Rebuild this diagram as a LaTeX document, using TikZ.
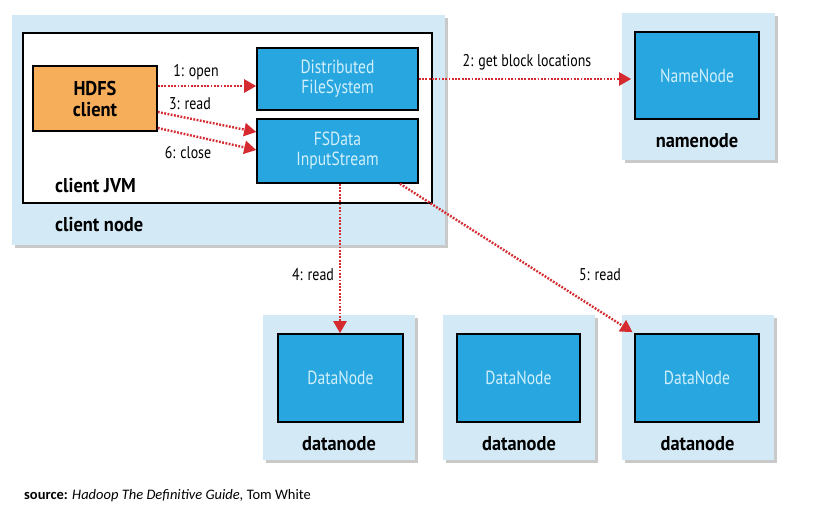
\documentclass[tikz,border=0pt]{standalone}
\usepackage{fontspec}
\setmainfont[FakeStretch=0.82]{PT Sans}
\newfontfamily\boldlab[FakeStretch=0.92]{PT Sans}
\newfontfamily\srcfont{Carlito}
\usetikzlibrary{arrows.meta,shadows}
\definecolor{lightbg}{HTML}{D3EAF6}
\definecolor{boxblue}{HTML}{27A6DF}
\definecolor{boxtext}{HTML}{D2F0FC}
\definecolor{hdfsorange}{HTML}{F6AE5A}
\definecolor{arrred}{HTML}{D42A30}
\tikzset{
  x=1pt, y=-1pt,
  hostbox/.style={draw=none, fill=lightbg, minimum width=#1, inner sep=0pt,
    drop shadow={shadow xshift=3pt, shadow yshift=-3pt, opacity=0.35, fill=black!60}},
  bluebox/.style={draw=black, line width=1.6pt, fill=boxblue, text=boxtext, align=center,
    font=\fontsize{19}{20}\selectfont, inner sep=0pt},
  hostlabel/.style={font=\boldlab\bfseries\fontsize{20}{21}\selectfont, inner sep=0pt},
  edgelabel/.style={font=\fontsize{17}{18}\selectfont, inner sep=0pt},
  dotarrow/.style={draw=arrred, line width=2.4pt, dash pattern=on 1.8pt off 1.5pt,
    -{Triangle[length=12pt, width=13pt, fill=arrred]}}
}
\begin{document}
\begin{tikzpicture}
\useasboundingbox (0,0) rectangle (824,517);
\fill[white] (0,0) rectangle (824,517);

% client node
\node[hostbox=433pt, minimum height=230pt] (clientnode) at (228.5,130) {};
\node[draw=black, line width=1.6pt, fill=white, minimum width=409pt, minimum height=170pt, inner sep=0pt] (jvm) at (227.5,118) {};
\node[hostlabel, anchor=west] (jvmlabel) at (55,186) {client JVM};
\node[hostlabel, anchor=west] (cnlabel) at (55,225) {client node};

\node[draw=black, line width=1.6pt, fill=hdfsorange, minimum width=124pt, minimum height=65pt, align=center,
  font=\boldlab\bfseries\fontsize{20}{21}\selectfont, inner sep=0pt] (hdfs) at (95,98.5) {HDFS\\client};
\node[bluebox, minimum width=161pt, minimum height=62pt] (dfs) at (337.5,79) {Distributed\\FileSystem};
\node[bluebox, minimum width=161pt, minimum height=64pt] (fsd) at (337.5,151) {FSData\\InputStream};

% namenode
\node[hostbox=153pt, minimum height=147pt] (nnhost) at (698.5,86.5) {};
\node[bluebox, minimum width=124pt, minimum height=87pt] (nn) at (697,75.5) {NameNode};
\node[hostlabel] (nnlabel) at (697,141) {namenode};

% datanodes
\node[hostbox=152pt, minimum height=145pt] (dh1) at (339,387.5) {};
\node[hostbox=152pt, minimum height=145pt] (dh2) at (519,387.5) {};
\node[hostbox=152pt, minimum height=145pt] (dh3) at (697.5,387.5) {};
\node[bluebox, minimum width=125pt, minimum height=88pt] (dn1) at (340.5,378) {DataNode};
\node[bluebox, minimum width=123pt, minimum height=88pt] (dn2) at (518.5,378) {DataNode};
\node[bluebox, minimum width=124pt, minimum height=88pt] (dn3) at (697,378) {DataNode};
\node[hostlabel] (dl1) at (339,444) {datanode};
\node[hostlabel] (dl2) at (519,444) {datanode};
\node[hostlabel] (dl3) at (697.5,444) {datanode};

% arrows
\draw[dotarrow] (hdfs.east |- 0,86) -- (dfs.west |- 0,86);
\draw[dotarrow] (hdfs.east |- 0,112) -- (fsd.west |- 0,132);
\draw[dotarrow] (hdfs.east |- 0,128) -- (fsd.west |- 0,150);
\draw[dotarrow, shorten >=3pt] (dfs.east |- 0,79) -- (nn.west |- 0,79);
\draw[dotarrow] (fsd.south -| 340,0) -- (dn1.north -| 340,0);
\draw[dotarrow, shorten >=2pt] (fsd.south -| 400,0) -- (dn3.north west);

\node[edgelabel] (l1) at (196,72) {1: open};
\node[edgelabel] (l3) at (190,104) {3: read};
\node[edgelabel] (l6) at (188,153) {6: close};
\node[edgelabel] (l2) at (527,62) {2: get block locations};
\node[edgelabel] (l4) at (313,275) {4: read};
\node[edgelabel] (l5) at (600,275) {5: read};

\node[anchor=west, inner sep=0pt, font=\srcfont\fontsize{14.5}{16}\selectfont] (src) at (24,496)
  {\textbf{source:} \textit{Hadoop The Definitive Guide,} Tom White};
\end{tikzpicture}
\end{document}
